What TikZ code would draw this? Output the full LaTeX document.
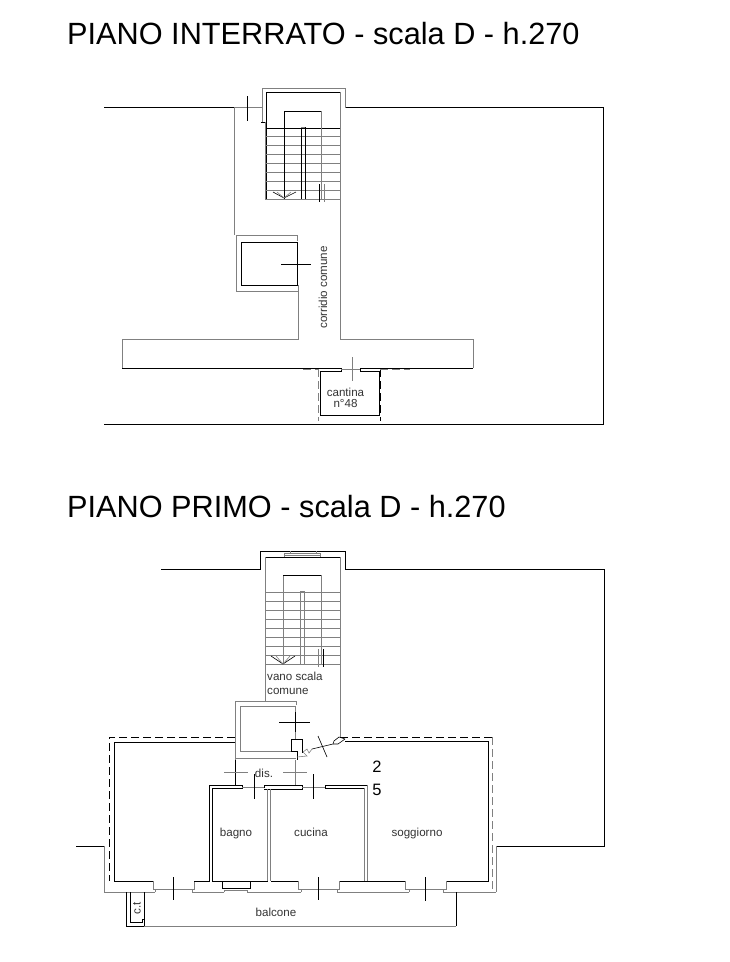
\documentclass[tikz,border=0pt]{standalone}
\usepackage{fontspec}
\setmainfont{Liberation Sans}
\definecolor{wallgray}{gray}{0.5}
\tikzset{
  wall/.style={draw=black,line width=.8pt},
  thin wall/.style={draw=wallgray,line width=.85pt},
  thin rung/.style={draw=wallgray,line width=.6pt},
  tick/.style={draw=black,line width=.6pt},
  dash wall/.style={draw=black,line width=.8pt,dash pattern=on 8pt off 4pt},
  dash gray/.style={draw=wallgray,line width=.8pt,dash pattern=on 8pt off 4pt},
  title/.style={anchor=base west,inner sep=0pt,font=\fontsize{30.7}{32}\selectfont},
  room/.style={anchor=base,inner sep=0pt,text=black!80,font=\fontsize{11.6}{11.6}\selectfont},
  number/.style={inner sep=0pt,font=\fontsize{16.5}{16.5}\selectfont}
}
\begin{document}
\begin{tikzpicture}[x=1pt,y=-1pt]
    \useasboundingbox (0,0) rectangle (730,962);

    % titles
    \node[title] (title1) at (67,44) {PIANO INTERRATO - scala D - h.270};
    \node[title] (title2) at (67,517) {PIANO PRIMO - scala D - h.270};

    % basement: outer outline
    \draw[wall] (104,107.5) -- (234,107.5);
    \draw[wall] (345,107.5) -- (603,107.5) -- (603,424) -- (104,424);
    \draw[thin wall] (234,107.5) -- (262,107.5);
    \draw[thin wall] (262,122) -- (262,88) -- (345,88) -- (345,107.5);
    \draw[tick] (247,96) -- (247,121);

    % basement: stairs
    \draw[wall] (261,122) -- (266,122);
    \draw[wall] (266,199) -- (266,92) -- (340,92);
    \draw[wall] (266,128.3) -- (340,128.3);
    \foreach \ty in {136.3,145.3,154,163.3,172.3,181.3,190.7,199.3}
      \draw[thin rung] (265,\ty) -- (340,\ty);
    \draw[thin wall] (265,122) -- (265,199);
    \draw[wall] (284,199) -- (284,111) -- (321,111);
    \draw[thin wall] (321,111) -- (321,199);
    \draw[wall] (301,199) -- (301,127);
    \draw[wall] (305,199) -- (305,127);
    \draw[thin wall] (301,127) -- (305,127);
    \draw[tick] (273,192) -- (284,198) -- (296,192);
    \draw[thin rung] (277,192) -- (284,198) -- (291,192);
    \draw[tick] (319,184) -- (319,202);
    \draw[thin rung] (324,184) -- (324,202);

    % basement: corridor
    \draw[thin wall] (234,107.5) -- (234,235);
    \draw[thin wall] (340,92) -- (340,339) -- (473,339) -- (473,368);
    \draw[thin wall] (298,291) -- (298,339) -- (122,339) -- (122,368);
    \draw[wall] (122,368) -- (341,368) -- (341,371) -- (320,371) -- (320,415) -- (379,415) -- (379,371) -- (360,371) -- (360,368) -- (473,368);

    % basement: lift
    \draw[thin wall] (297,241) -- (297,235) -- (236,235) -- (236,291) -- (298,291) -- (298,285);
    \draw[wall] (297,242) -- (241,242) -- (241,285) -- (297,285) -- cycle;
    \draw[tick] (281,264) -- (311,264);
    \draw[tick] (297,253) -- (297,275);

    % basement: cellar
    \draw[thin rung] (341,369) -- (360,369);
    \draw[thin rung] (352,357) -- (352,381);
    \draw[dash gray] (303,369) -- (318,369);
    \draw[dash gray] (318,369) -- (318,421);
    \draw[dash wall] (380,369) -- (380,421);
    \draw[dash gray] (380,369) -- (410,369);

    \node[room,anchor=center,rotate=90] (corridor) at (323,287.5) {corridio comune};
    \node[room] (cellar1) at (345.5,396.5) {cantina};
    \node[room] (cellar2) at (345.5,407.5) {n°48};

    % first floor: outer outline
    \draw[wall] (161,569) -- (260,569) -- (260,551) -- (345,551) -- (345,569) -- (604,569) -- (604,846) -- (496,846);
    \draw[thin wall] (496,846) -- (496,892);
    \draw[wall] (76,846) -- (104,846);
    \draw[thin wall] (104,846) -- (104,892) -- (155,892);
    \draw[thin wall] (192,892) -- (224,892);
    \draw[thin wall] (247,892) -- (301,892);
    \draw[thin wall] (337,892) -- (409,892);
    \draw[thin wall] (443,892) -- (496,892);

    % first floor: stairs
    \draw[wall] (265,557) -- (340,557);
    \draw[thin wall] (265,557) -- (265,701);
    \draw[thin wall] (340,557) -- (340,737);
    \draw[thin rung] (284,557) -- (284,553) -- (320,553) -- (320,557);
    \draw[thin rung] (290,553) -- (290,551);
    \draw[thin rung] (316,553) -- (316,551);
    \draw[thin rung] (284,555) -- (320,555);
    \foreach \ty in {592.3,601.3,610.3,619.3,628.3,637.3,646.7,655.7,664.3}
      \draw[thin rung] (265,\ty) -- (340,\ty);
    \draw[thin wall] (283,664) -- (283,575);
    \draw[wall] (283,575) -- (321,575);
    \draw[thin wall] (321,575) -- (321,664);
    \draw[thin wall] (300,664) -- (300,591) -- (304,591) -- (304,664);
    \draw[tick] (271,656) -- (283,664) -- (295,656);
    \draw[thin rung] (276,656) -- (283,664) -- (290,656);
    \draw[thin rung] (318,649) -- (318,667);
    \draw[tick] (323,649) -- (323,667);
    \node[room,anchor=base west] (stair1) at (267,680.5) {vano scala};
    \node[room,anchor=base west] (stair2) at (267,694.5) {comune};

    % first floor: lift
    \draw[thin wall] (296,705) -- (296,701) -- (235,701) -- (235,760);
    \draw[thin wall] (235,758) -- (296,758);
    \draw[thin wall] (295,706) -- (240,706) -- (240,751) -- (291,751);
    \draw[thin wall] (295,706) -- (295,739);
    \draw[wall] (291,751) -- (291,739) -- (302,739) -- (302,753);
    \draw[wall] (291,751) -- (297,751) -- (297,760);
    \draw[tick] (279,722) -- (310,722);
    \draw[tick] (295,712) -- (295,732);

    % first floor: entrance door
    \draw[thin rung] (297,757) -- (307,756) -- (303,752) -- (307,749) -- (309,753) -- (312,749);
    \draw[tick] (312,749) -- (333,744);
    \draw[tick] (318,736) -- (327,757);
    \draw[tick] (333,744) -- (334,741) -- (339,737) -- (345,739);
    \draw[tick] (333,744) -- (338,744) -- (345,739);

    % first floor: flat walls
    \draw[dash wall] (235,737) -- (109,737) -- (109,881);
    \draw[dash wall] (340,737) -- (492,737);
    \draw[dash gray] (492,737) -- (492,892);
    \draw[wall] (235,742) -- (114,742) -- (114,881) -- (153,881);
    \draw[thin wall] (153,881) -- (153,889) -- (155,889) -- (155,892);
    \draw[thin rung] (155,889) -- (192,889);
    \draw[thin wall] (192,892) -- (192,889) -- (194,889) -- (194,881);
    \draw[wall] (345,741) -- (488,741) -- (488,881) -- (446,881);
    \draw[thin wall] (446,881) -- (446,889) -- (443,889) -- (443,892);
    \draw[thin rung] (409,889) -- (443,889);
    \draw[thin wall] (409,892) -- (409,889) -- (405,889) -- (405,881);
    \draw[wall] (405,881) -- (339,881);
    \draw[thin wall] (339,881) -- (339,889) -- (337,889) -- (337,892);
    \draw[thin rung] (301,889) -- (337,889);
    \draw[thin wall] (301,892) -- (301,889) -- (298,889) -- (298,881);
    \draw[wall] (298,881) -- (271,881);
    \draw[wall] (194,881) -- (209,881) -- (209,785) -- (242,785) -- (242,788) -- (212,788) -- (212,881) -- (268,881);
    \draw[wall] (235,760) -- (235,785);
    \draw[thin wall] (295,760) -- (295,785);
    \draw[wall] (264,788) -- (264,785) -- (302,785) -- (302,789) -- (264,789);
    \draw[thin rung] (242,787) -- (264,787);
    \draw[thin rung] (302,787) -- (325,787);
    \draw[wall] (325,788) -- (325,785) -- (367,785);
    \draw[wall] (325,788) -- (364,788);
    \draw[thin wall] (367,785) -- (367,881);
    \draw[thin wall] (364,788) -- (364,881);
    \draw[thin wall] (267,789) -- (267,881);
    \draw[thin wall] (270,789) -- (270,881);

    % first floor: door ticks
    \draw[tick] (254,774) -- (254,799);
    \draw[tick] (313,774) -- (313,799);
    \draw[tick] (173,877) -- (173,900);
    \draw[tick] (318,877) -- (318,900);
    \draw[tick] (425,877) -- (425,901);
    \draw[thin rung] (224,772) -- (248,772);
    \draw[thin rung] (283,772) -- (307,772);

    % first floor: bathroom window
    \draw[wall] (222,881) -- (222,888) -- (250,888) -- (250,881);
    \draw[thin rung] (224,892) -- (224,890) -- (247,890) -- (247,892);

    % first floor: balcony
    \draw[wall] (126,892) -- (126,926) -- (144,926) -- (144,892);
    \draw[wall] (130,892) -- (130,922) -- (142,922) -- (142,919) -- (144,919);
    \draw[thin wall] (144,926) -- (456,926);
    \draw[wall] (456,926) -- (456,892);

    \node[room] (dis) at (264,777.5) {dis.};
    \node[number] (num2) at (377,767) {2};
    \node[number] (num5) at (377,790) {5};
    \node[room] (bagno) at (236,836) {bagno};
    \node[room] (cucina) at (311,836) {cucina};
    \node[room] (soggiorno) at (417,836) {soggiorno};
    \node[room] (balcone) at (276,916) {balcone};
    \node[room,anchor=center,rotate=90] (ct) at (137,908) {c.t};
\end{tikzpicture}
\end{document}
